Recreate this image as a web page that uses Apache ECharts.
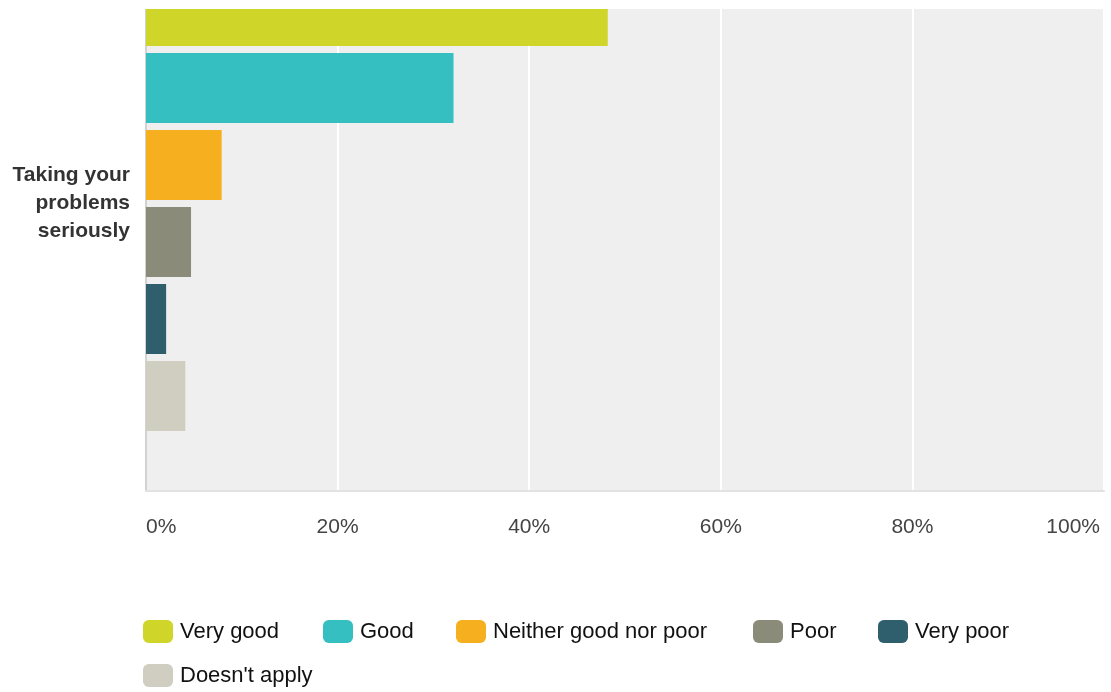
<!DOCTYPE html>
<html>
<head>
<meta charset="utf-8">
<script src="https://cdn.jsdelivr.net/npm/echarts@6/dist/echarts.min.js"></script>
<style>
  html, body { margin: 0; padding: 0; background: #ffffff; overflow: hidden; }
  #wrap { position: relative; width: 1111px; height: 692px; overflow: hidden; }
  /* The drawing surface extends above the visible frame so the bar group
     sits where the upper part of the plot is cut off. */
  #chart { position: absolute; left: 0; top: -93px; width: 1111px; height: 785px; }
</style>
</head>
<body>
<div id="wrap"><div id="chart"></div></div>
<script>
// Survey question and answer shares (percent of respondents)
const categories = ['Taking your\nproblems\nseriously'];
const seriesNames = ['Very good', 'Good', 'Neither good nor poor', 'Poor', 'Very poor', "Doesn't apply"];
const seriesValues = [48.2, 32.1, 7.9, 4.7, 2.1, 4.1];
const seriesColors = ['#d0d52a', '#35bfc1', '#f6af1f', '#8a8b79', '#2f5f6c', '#d0cec0'];
const xTicks = [0, 20, 40, 60, 80, 100];

const FONT = "'Liberation Sans', Arial, sans-serif";
const SHIFT = 93; // hidden band above the visible frame

const chart = echarts.init(document.getElementById('chart'), null, { renderer: 'canvas' });

const series = seriesNames.map((name, i) => ({
  name: name,
  type: 'bar',
  data: [seriesValues[i]],
  barWidth: 70,
  barGap: '10%',
  itemStyle: { color: seriesColors[i] },
  emphasis: { disabled: true }
}));

// One legend entry per component so each swatch sits at its own spot
const legendSpots = [
  [143, 620], [323, 620], [456, 620], [753, 620], [878, 620],
  [143, 664]
];
const legends = seriesNames.map((name, i) => ({
  data: [name],
  left: legendSpots[i][0],
  top: legendSpots[i][1] + SHIFT,
  orient: 'horizontal',
  icon: 'roundRect',
  itemWidth: 30, itemHeight: 23,
  padding: 0,
  selectedMode: false,
  textStyle: { fontFamily: FONT, fontSize: 22, color: '#111111', padding: [0, 0, 0, 2] }
}));

const lastTick = xTicks[xTicks.length - 1];

chart.setOption({
  animation: false,
  backgroundColor: '#ffffff',
  grid: {
    left: 146, right: 7, top: 9, bottom: 201,
    show: true, backgroundColor: '#efefef', borderWidth: 0,
    containLabel: false
  },
  xAxis: {
    type: 'value',
    min: xTicks[0],
    max: lastTick,
    interval: xTicks[1] - xTicks[0],
    axisLine: { show: true, lineStyle: { color: '#e2e2e2', width: 2 } },
    axisTick: { show: false },
    splitLine: { show: true, lineStyle: { color: '#ffffff', width: 2 } },
    axisLabel: {
      formatter: v => (v === lastTick ? '{last|' + v + '%}' : v + '%'),
      rich: {
        last: { fontFamily: FONT, fontSize: 21, color: '#444444', padding: [0, 4, 0, 0] }
      },
      fontFamily: FONT, fontSize: 21, color: '#444444',
      margin: 26,
      alignMinLabel: 'left',
      alignMaxLabel: 'right'
    }
  },
  yAxis: {
    type: 'category',
    data: categories,
    axisTick: { show: false },
    axisLine: { show: true, lineStyle: { color: '#d2d2d2', width: 2 } },
    splitLine: { show: false },
    axisLabel: {
      fontFamily: FONT, fontSize: 21, fontWeight: 'bold', color: '#333333',
      lineHeight: 28, margin: 16, align: 'right',
      padding: [4, 0, 0, 0]
    }
  },
  legend: legends,
  graphic: [
    {
      type: 'rect',
      z: 100,
      shape: { x: 0, y: SHIFT, width: 1111, height: 9 },
      style: { fill: '#ffffff' },
      silent: true
    }
  ],
  series: series
});
</script>
</body>
</html>
